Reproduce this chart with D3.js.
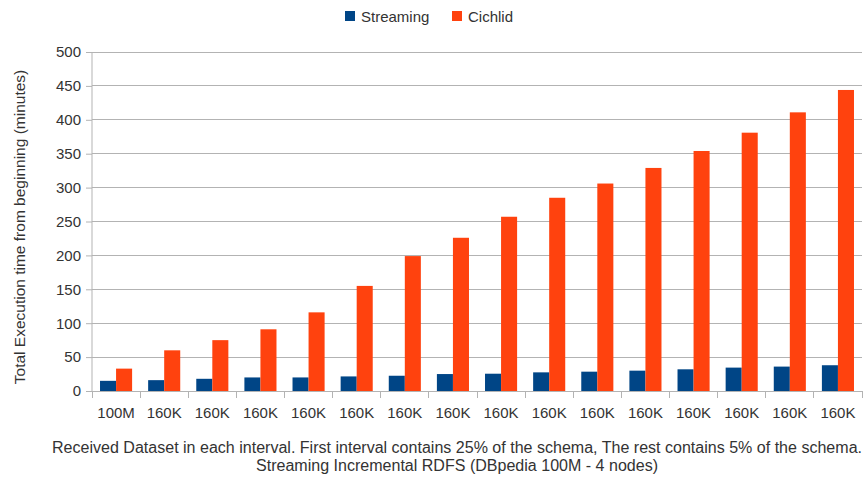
<!DOCTYPE html>
<html><head><meta charset="utf-8">
<script src="https://cdn.jsdelivr.net/npm/d3@7"></script>
<style>body{margin:0;background:#fff}svg{display:block}text{font-family:"Liberation Sans",Arial,sans-serif;fill:#333}</style>
</head><body><svg id="c" width="866" height="478"></svg>
<script>
const categories = ["100M","160K","160K","160K","160K","160K","160K","160K","160K","160K","160K","160K","160K","160K","160K","160K"];
const streaming = [15,16,18,20,20,21.5,22.5,25,25.5,27.5,28.5,30,32,34.5,36,38];
const cichlid = [33,60,75,91,116,155,199,226,257,285,306,329,354,381,411,444];
const seriesNames = ["Streaming","Cichlid"];
const colors = ["#004586","#ff420e"];
const yTicks = [0,50,100,150,200,250,300,350,400,450,500];

const svg = d3.select("#c");
const L=92, R=862, T=52, B=391;
const x = d3.scaleBand().domain(d3.range(categories.length)).range([L,R]).paddingInner(1/3).paddingOuter(1/6);
const xs = d3.scaleBand().domain([0,1]).range([0,x.bandwidth()]);
const y = d3.scaleLinear().domain([0,500]).range([B,T]);

// grid
svg.append("g").selectAll("line").data(yTicks).join("line")
  .attr("x1",L).attr("x2",R).attr("y1",d=>y(d)).attr("y2",d=>y(d))
  .attr("stroke","#b3b3b3").attr("stroke-width",1).attr("shape-rendering","crispEdges");

// bars
const data=[streaming,cichlid];
data.forEach((arr,s)=>{
  svg.append("g").selectAll("rect").data(arr).join("rect")
    .attr("x",(d,i)=>x(i)+xs(s)).attr("width",xs.bandwidth())
    .attr("y",d=>y(d)).attr("height",d=>y(0)-y(d)).attr("fill",colors[s]);
});

// y axis
const ya = svg.append("g").attr("transform",`translate(${L},0)`)
  .call(d3.axisLeft(y).tickValues(yTicks).tickSize(6).tickPadding(5));
ya.select(".domain").attr("stroke","#b3b3b3").attr("d",`M0,${T}V${B}`);
ya.selectAll(".tick line").attr("stroke","#b3b3b3");
ya.selectAll("text").style("font-size","15px").attr("fill","#333");

// x axis
const xb = d3.scaleLinear().domain([0,categories.length]).range([L,R]);
const xa = svg.append("g").attr("transform",`translate(0,${B})`);
xa.append("line").attr("x1",L).attr("x2",R).attr("stroke","#b3b3b3").attr("shape-rendering","crispEdges");
xa.selectAll(".tk").data(d3.range(categories.length+1)).join("line").attr("class","tk")
  .attr("x1",d=>xb(d)).attr("x2",d=>xb(d)).attr("y1",0).attr("y2",7).attr("stroke","#b3b3b3").attr("shape-rendering","crispEdges");
xa.selectAll("text").data(categories).join("text")
  .attr("x",(d,i)=>x(i)+x.bandwidth()/2).attr("y",27).attr("text-anchor","middle")
  .style("font-size","15px").text(d=>d);

// y title
svg.append("text").attr("transform",`translate(25,227) rotate(-90)`)
  .attr("text-anchor","middle").style("font-size","15.5px").text("Total Execution time from beginning (minutes)");

// captions
svg.append("text").attr("x",457).attr("y",453).attr("text-anchor","middle")
  .style("font-size","16px").attr("textLength",810).attr("lengthAdjust","spacingAndGlyphs")
  .text("Received Dataset in each interval. First interval contains 25% of the schema, The rest contains 5% of the schema.");
svg.append("text").attr("x",457).attr("y",471).attr("text-anchor","middle")
  .style("font-size","16px").attr("textLength",402).attr("lengthAdjust","spacingAndGlyphs")
  .text("Streaming Incremental RDFS (DBpedia 100M - 4 nodes)");

// legend
const lg = svg.append("g");
const lx=[345,452];
seriesNames.forEach((n,i)=>{
  lg.append("rect").attr("x",lx[i]).attr("y",11).attr("width",10).attr("height",10).attr("fill",colors[i]);
  lg.append("text").attr("x",lx[i]+16).attr("y",22).style("font-size","15px").text(n);
});
</script></body></html>
